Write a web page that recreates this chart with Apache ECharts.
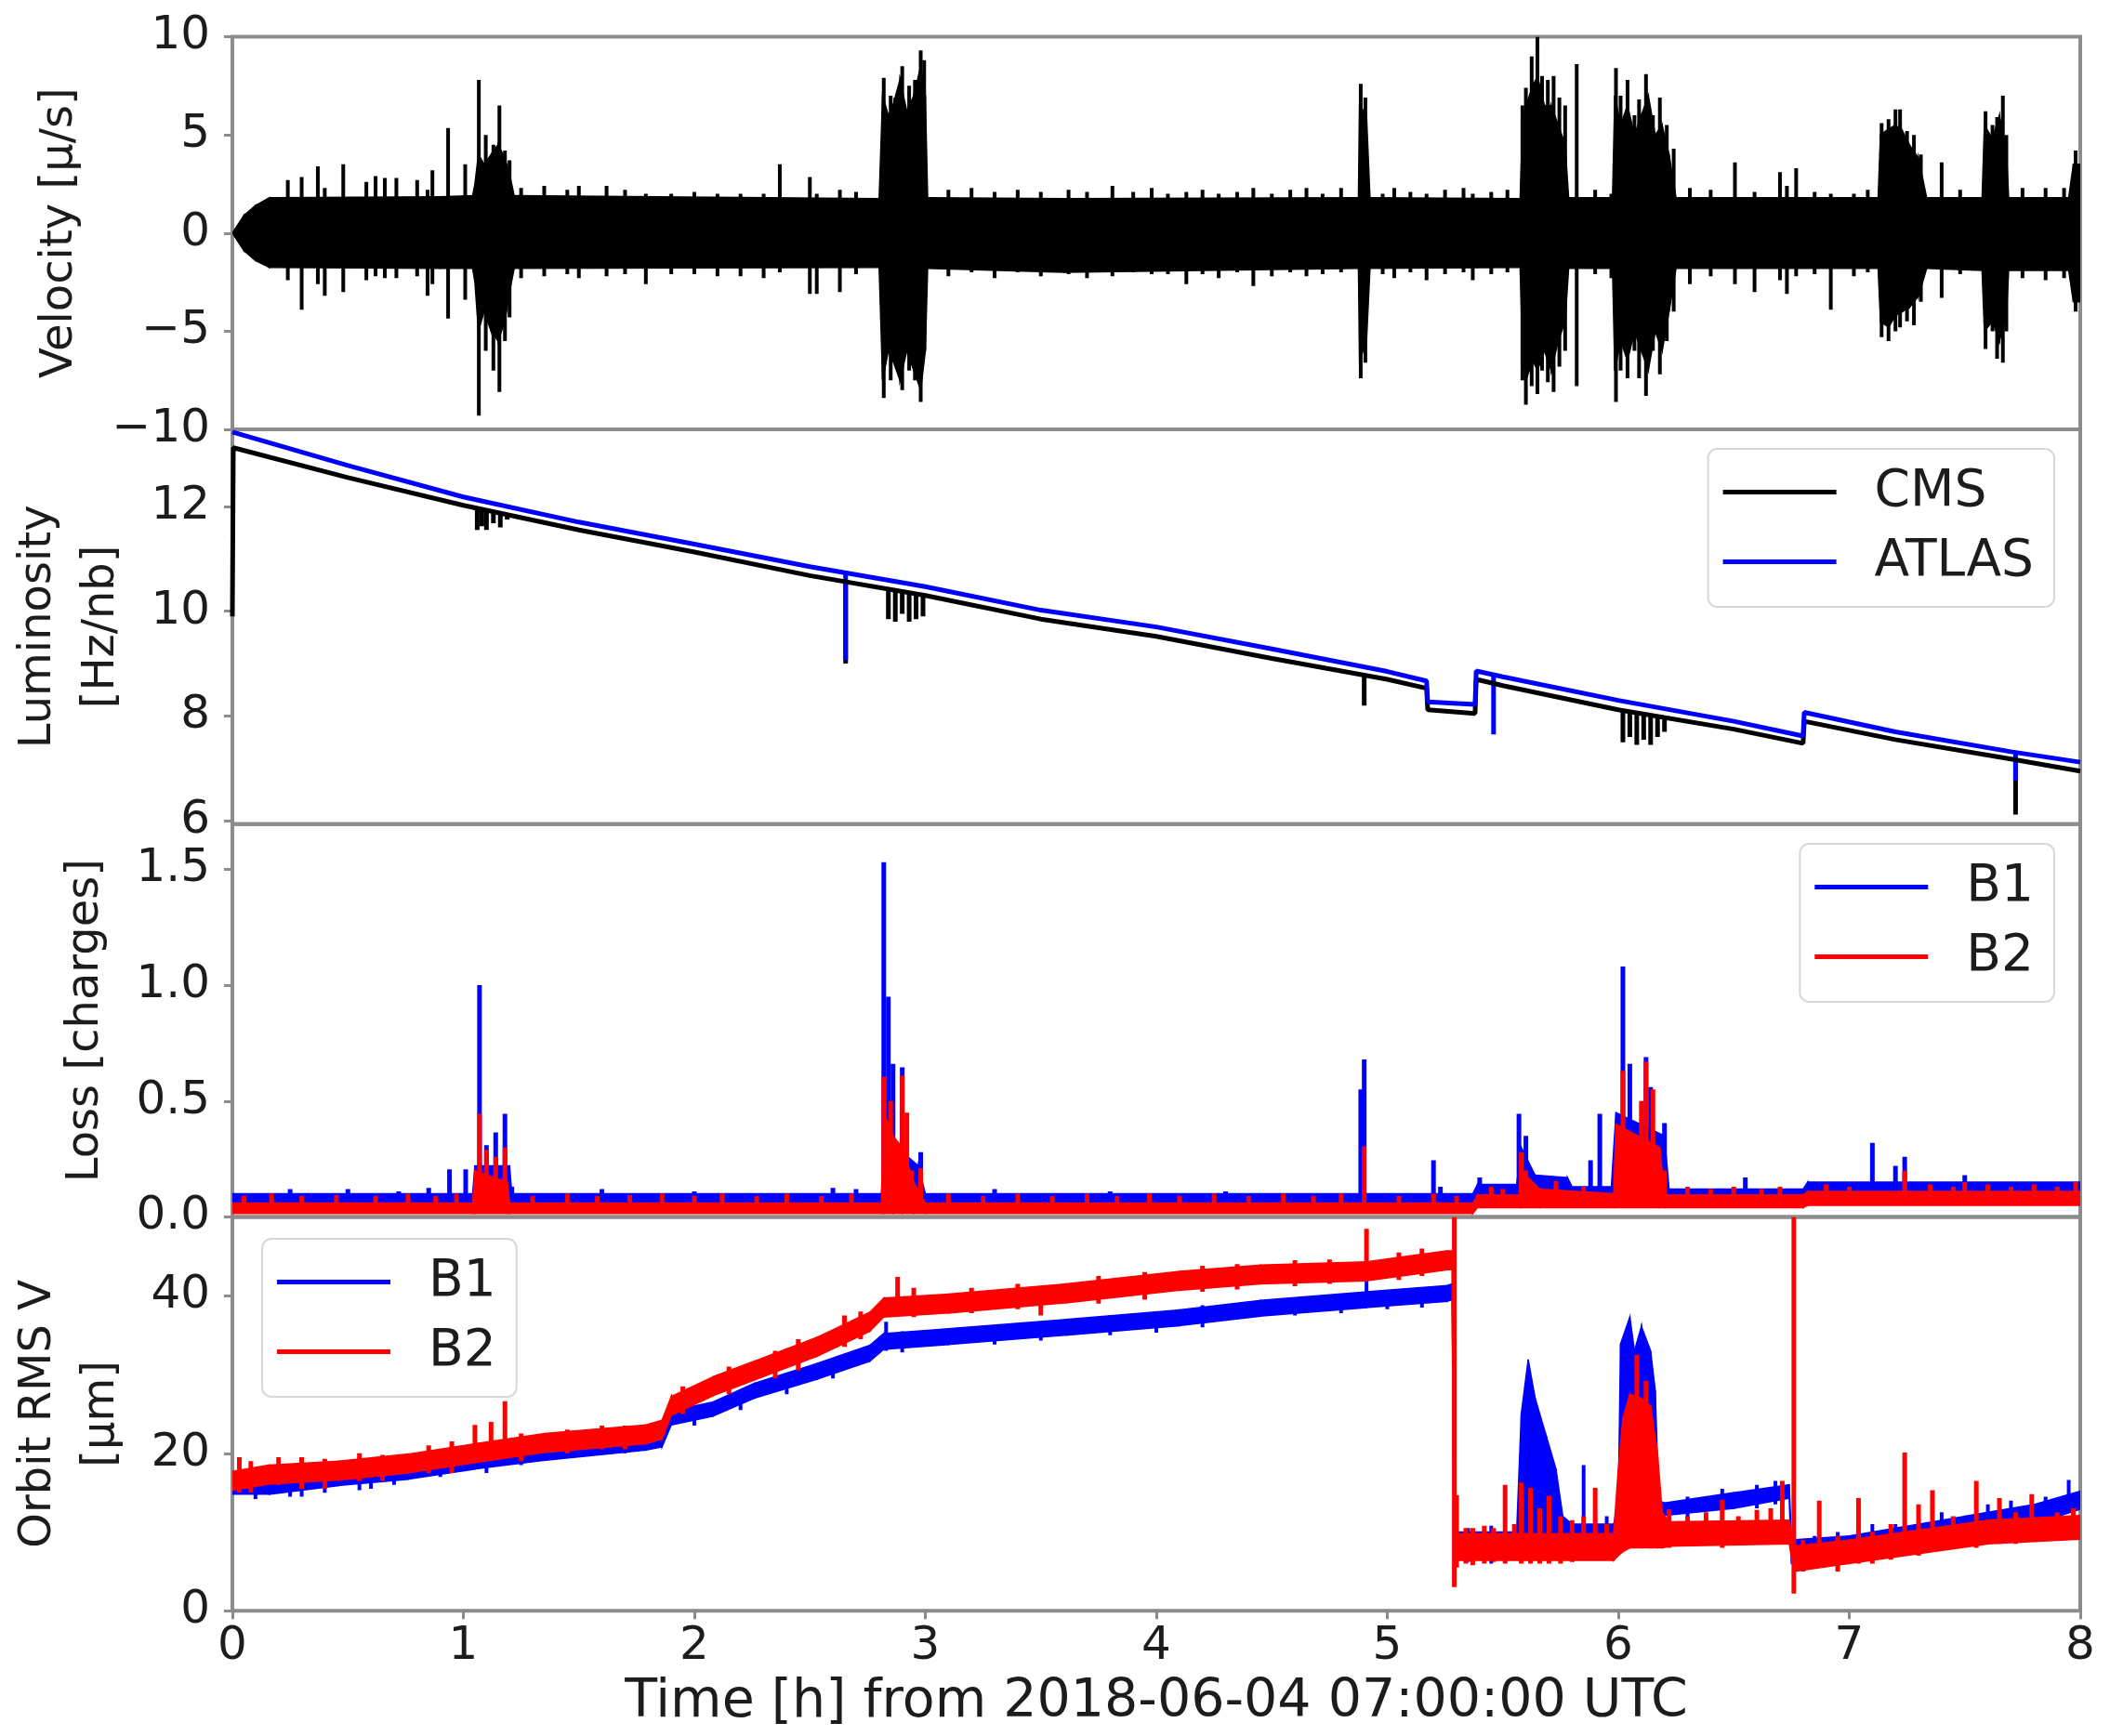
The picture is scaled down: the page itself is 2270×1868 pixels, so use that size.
<!DOCTYPE html>
<html>
<head>
<meta charset="utf-8">
<script src="https://cdn.jsdelivr.net/npm/echarts@6/dist/echarts.min.js"></script>
<style>
html, body { margin: 0; padding: 0; background: #fff; }
#chart { width: 2270px; height: 1868px; }
</style>
</head>
<body>
<div id="chart"></div>
<script>
// ---- tick labels ----
const velTicks = [-10, -5, 0, 5, 10]
const lumiTicks = [6, 8, 10, 12]
const lossTicks = [0, 0.5, 1.0, 1.5]
const orbitTicks = [0, 20, 40]

// ---- velocity: core band [t, lo, hi] and spikes [t, lo, hi] ----
const velBand = [
  [0.00, 0, 0], [0.05, -0.9, 0.9], [0.10, -1.4, 1.4], [0.16, -1.75, 1.8], [0.90, -1.8, 1.85],
  [1.04, -1.8, 1.9], [1.05, -2.5, 2.5], [1.065, -5.0, 4.0], [1.09, -4.0, 3.5], [1.12, -5.0, 4.0],
  [1.15, -5.5, 4.5], [1.18, -4.5, 3.8], [1.20, -3.0, 3.0], [1.22, -1.8, 1.9], [2.80, -1.75, 1.75],
  [2.815, -7.5, 7.0], [2.84, -6.0, 6.0], [2.86, -6.5, 6.5], [2.89, -7.5, 7.8], [2.92, -6.0, 6.2],
  [2.95, -7.0, 7.0], [2.98, -8.0, 8.5], [3.00, -6.0, 7.0], [3.01, -1.8, 1.8], [3.60, -2.0, 1.75],
  [4.875, -1.8, 1.8], [4.88, -6.5, 6.5], [4.91, -5.5, 6.0], [4.925, -1.8, 1.8], [5.575, -1.75, 1.75],
  [5.585, -6.0, 5.5], [5.60, -7.5, 6.5], [5.63, -6.5, 7.5], [5.65, -7.0, 8.0], [5.68, -6.0, 6.5],
  [5.71, -7.0, 6.5], [5.74, -5.5, 5.5], [5.77, -4.5, 4.5], [5.785, -1.8, 1.8], [5.975, -1.8, 1.8],
  [5.985, -7.0, 7.0], [6.01, -5.5, 5.5], [6.04, -6.5, 6.5], [6.07, -5.0, 5.0], [6.10, -6.0, 6.0],
  [6.13, -7.0, 7.0], [6.16, -5.0, 5.0], [6.19, -6.0, 5.5], [6.22, -4.0, 4.0], [6.25, -1.8, 1.8],
  [7.125, -1.8, 1.8], [7.135, -4.5, 5.0], [7.17, -4.8, 5.3], [7.20, -4.2, 5.5], [7.23, -4.0, 5.2],
  [7.26, -3.8, 4.5], [7.30, -3.2, 3.8], [7.335, -1.8, 1.8], [7.575, -1.9, 1.8], [7.585, -5.0, 5.5],
  [7.62, -4.5, 4.8], [7.65, -5.5, 6.0], [7.68, -4.2, 4.2], [7.69, -1.9, 1.8], [7.95, -1.9, 1.8],
  [7.97, -3.5, 3.5], [8.00, -3.5, 3.5]
]
const velSpikes = [
  [0.24, -2.4, 2.7], [0.30, -3.9, 2.85], [0.37, -2.6, 3.4], [0.40, -3.2, 2.3], [0.48, -3.0, 3.5],
  [0.58, -2.4, 2.6], [0.62, -2.2, 2.9], [0.66, -2.3, 2.8], [0.71, -2.3, 2.8], [0.80, -2.2, 2.7],
  [0.845, -3.2, 2.2], [0.866, -2.6, 3.2], [0.934, -4.35, 5.35], [1.008, -3.4, 3.5], [1.067, -9.3, 7.8],
  [1.097, -6.0, 5.0], [1.13, -7.0, 4.5], [1.156, -8.1, 6.5], [1.18, -5.5, 4.2], [1.20, -4.3, 3.7],
  [1.25, -2.3, 2.3], [1.35, -2.2, 2.4], [1.45, -2.1, 2.2], [1.50, -2.3, 2.4], [1.62, -2.2, 2.4],
  [1.70, -2.1, 2.2], [1.79, -2.6, 2.0], [1.90, -2.1, 2.0], [2.00, -2.1, 2.1], [2.10, -2.2, 2.0],
  [2.20, -2.2, 2.0], [2.30, -2.3, 2.0], [2.37, -2.0, 3.5], [2.50, -3.1, 2.85], [2.53, -3.1, 2.0],
  [2.63, -3.0, 2.2], [2.70, -2.1, 2.1],
  [2.82, -8.4, 7.9], [2.85, -7.5, 7.0], [2.87, -6.6, 6.9], [2.90, -8.0, 8.5], [2.93, -7.0, 7.5],
  [2.955, -7.5, 7.8], [2.98, -8.6, 9.3], [2.995, -6.0, 8.8],
  [3.10, -2.2, 2.2], [3.20, -2.0, 2.3], [3.30, -2.3, 2.1], [3.40, -2.0, 2.2], [3.50, -2.2, 2.1],
  [3.62, -2.1, 2.2], [3.70, -2.3, 2.1], [3.81, -2.2, 2.4], [3.90, -2.0, 2.1], [3.98, -2.1, 2.3],
  [4.05, -2.1, 2.0], [4.13, -2.6, 2.1], [4.20, -2.1, 2.2], [4.27, -2.3, 2.0], [4.35, -2.0, 2.1],
  [4.42, -2.7, 2.3], [4.50, -2.2, 2.0], [4.58, -2.0, 2.2], [4.65, -2.2, 2.3], [4.72, -2.1, 2.0],
  [4.80, -2.0, 2.3], [4.885, -7.4, 7.6], [4.905, -6.6, 6.9],
  [4.98, -2.1, 2.0], [5.03, -2.3, 2.3], [5.10, -2.0, 2.1], [5.17, -2.4, 2.0], [5.25, -2.1, 2.2],
  [5.33, -2.0, 2.3], [5.37, -2.4, 2.0], [5.45, -2.1, 2.1], [5.52, -2.0, 2.2],
  [5.585, -7.5, 6.5], [5.60, -8.75, 7.4], [5.625, -7.8, 9.0], [5.65, -8.2, 10.0], [5.67, -7.0, 8.0],
  [5.695, -7.6, 7.8], [5.72, -8.1, 8.0], [5.745, -6.8, 6.9], [5.77, -6.0, 6.5], [5.82, -7.8, 8.6],
  [5.90, -2.1, 2.2], [5.97, -2.3, 2.0],
  [5.99, -8.6, 8.4], [6.01, -7.0, 7.0], [6.04, -7.4, 7.8], [6.07, -6.0, 6.0], [6.09, -7.4, 6.8],
  [6.12, -8.3, 8.1], [6.15, -6.0, 6.0], [6.18, -7.2, 6.9], [6.21, -5.5, 5.5], [6.24, -4.0, 4.3],
  [6.31, -2.6, 2.3], [6.40, -2.2, 2.2], [6.505, -2.6, 3.6], [6.59, -3.0, 2.1], [6.70, -2.4, 3.1],
  [6.73, -3.1, 2.4], [6.77, -2.2, 3.3], [6.85, -2.1, 2.1], [6.92, -3.9, 2.0], [7.02, -2.2, 2.0],
  [7.08, -2.0, 2.2], [7.14, -5.3, 5.6], [7.17, -5.5, 5.8], [7.20, -5.0, 6.3], [7.22, -4.8, 6.3],
  [7.25, -4.5, 5.2], [7.28, -4.7, 5.0], [7.31, -3.5, 4.0], [7.40, -3.3, 3.6], [7.48, -2.1, 2.2],
  [7.59, -5.9, 6.2], [7.62, -5.0, 5.5], [7.64, -6.4, 5.9], [7.665, -6.6, 7.0], [7.68, -5.0, 5.0],
  [7.75, -2.3, 2.3], [7.85, -2.4, 2.3], [7.93, -2.3, 2.3], [7.98, -4.0, 4.2]
]

// ---- luminosity [t, value] and dips [t, lo, hi] ----
const cmsLumi = [
  [0, 9.9], [0.004, 13.12], [0.5, 12.55], [1.0, 12.02], [1.5, 11.55], [2.0, 11.13], [2.5, 10.68],
  [3.0, 10.3], [3.5, 9.85], [4.0, 9.52], [4.5, 9.1], [5.0, 8.7], [5.17, 8.53], [5.175, 8.12],
  [5.38, 8.05], [5.385, 8.7], [5.5, 8.58], [6.0, 8.12], [6.5, 7.75], [6.8, 7.48], [6.805, 7.9],
  [7.2, 7.55], [7.7, 7.18], [8.0, 6.95]
]
const atlasLumi = [
  [0, 13.42], [0.5, 12.78], [1.0, 12.18], [1.5, 11.7], [2.0, 11.28], [2.5, 10.85], [3.0, 10.47],
  [3.5, 10.02], [4.0, 9.7], [4.5, 9.28], [5.0, 8.85], [5.17, 8.67], [5.175, 8.27], [5.38, 8.22],
  [5.385, 8.86], [5.5, 8.75], [6.0, 8.3], [6.5, 7.9], [6.8, 7.62], [6.805, 8.07], [7.2, 7.7],
  [7.7, 7.32], [8.0, 7.12]
]
const cmsDips = [
  [1.06, 11.55, 11.96], [1.08, 11.62, 11.95], [1.10, 11.55, 11.93], [1.13, 11.68, 11.9],
  [1.16, 11.6, 11.87], [1.19, 11.75, 11.85], [2.655, 9.0, 10.56], [2.84, 9.85, 10.42],
  [2.87, 9.8, 10.4], [2.90, 9.95, 10.38], [2.93, 9.8, 10.36], [2.96, 9.85, 10.33], [2.99, 9.9, 10.31],
  [4.90, 8.2, 8.78], [6.02, 7.5, 8.1], [6.05, 7.6, 8.08], [6.08, 7.45, 8.05], [6.11, 7.55, 8.03],
  [6.14, 7.45, 8.0], [6.17, 7.6, 7.98], [6.20, 7.7, 7.96], [7.72, 6.12, 7.17]
]
const atlasDips = [[2.655, 9.07, 10.74], [5.46, 7.65, 8.8], [7.72, 6.77, 7.33]]

// ---- loss [t, lo, hi] ----
const b1LossBand = [
  [0, 0.06, 0.1], [1.04, 0.06, 0.1], [1.05, 0.06, 0.22], [1.2, 0.06, 0.22], [1.21, 0.06, 0.1],
  [2.81, 0.06, 0.1], [2.82, 0.06, 0.35], [2.97, 0.06, 0.22], [3.0, 0.06, 0.1], [5.37, 0.06, 0.1],
  [5.39, 0.08, 0.14], [5.56, 0.08, 0.14], [5.58, 0.08, 0.3], [5.64, 0.08, 0.18], [5.78, 0.08, 0.17],
  [5.8, 0.07, 0.13], [5.97, 0.07, 0.13], [5.99, 0.08, 0.45], [6.2, 0.08, 0.35], [6.22, 0.07, 0.12],
  [6.8, 0.07, 0.12], [6.82, 0.09, 0.15], [8.0, 0.09, 0.15]
]
const b2LossBand = [
  [0, 0.015, 0.06], [1.04, 0.015, 0.06], [1.05, 0.015, 0.2], [1.19, 0.015, 0.15], [1.2, 0.015, 0.06],
  [2.81, 0.015, 0.06], [2.82, 0.015, 0.45], [2.86, 0.015, 0.35], [2.9, 0.015, 0.3], [2.95, 0.015, 0.15],
  [3.0, 0.015, 0.06], [5.37, 0.015, 0.06], [5.39, 0.04, 0.095], [5.57, 0.04, 0.095], [5.58, 0.04, 0.2],
  [5.66, 0.04, 0.12], [5.98, 0.04, 0.1], [5.99, 0.04, 0.4], [6.18, 0.04, 0.3], [6.2, 0.04, 0.095],
  [6.8, 0.04, 0.095], [6.82, 0.05, 0.11], [8.0, 0.05, 0.11]
]
const b1LossSpikes = [
  [0.25, 0.08, 0.12], [0.5, 0.08, 0.12], [0.72, 0.08, 0.11], [0.85, 0.08, 0.125], [0.94, 0.08, 0.205],
  [1.01, 0.08, 0.205], [1.07, 0.1, 1.0], [1.1, 0.1, 0.31], [1.14, 0.1, 0.365], [1.18, 0.1, 0.445],
  [1.21, 0.08, 0.13], [1.6, 0.08, 0.12], [2.0, 0.08, 0.11], [2.6, 0.08, 0.125], [2.7, 0.08, 0.12],
  [2.82, 0.2, 1.53], [2.84, 0.2, 0.95], [2.86, 0.2, 0.66], [2.9, 0.2, 0.645], [2.94, 0.1, 0.2],
  [2.98, 0.1, 0.28], [3.3, 0.08, 0.12], [3.8, 0.08, 0.11], [4.3, 0.08, 0.11], [4.885, 0.1, 0.55],
  [4.9, 0.1, 0.68], [5.2, 0.08, 0.245], [5.23, 0.08, 0.13], [5.4, 0.1, 0.17], [5.57, 0.1, 0.445],
  [5.6, 0.1, 0.35], [5.88, 0.1, 0.245], [5.92, 0.1, 0.445], [6.02, 0.2, 1.08], [6.05, 0.2, 0.66],
  [6.12, 0.2, 0.69], [6.14, 0.2, 0.56], [6.2, 0.1, 0.405], [6.55, 0.1, 0.17], [7.1, 0.1, 0.32],
  [7.2, 0.1, 0.22], [7.24, 0.1, 0.26], [7.5, 0.1, 0.18]
]
const b2LossSpikes = [
  [0.05, 0.03, 0.09], [0.17, 0.03, 0.1], [0.3, 0.03, 0.09], [0.45, 0.03, 0.095], [0.62, 0.03, 0.09],
  [0.76, 0.03, 0.1], [0.88, 0.03, 0.09], [0.97, 0.03, 0.1],
  [1.07, 0.05, 0.445], [1.1, 0.05, 0.29], [1.14, 0.05, 0.26], [1.18, 0.05, 0.3],
  [1.3, 0.03, 0.09], [1.45, 0.03, 0.1], [1.58, 0.03, 0.09], [1.72, 0.03, 0.095], [1.86, 0.03, 0.1],
  [2.0, 0.03, 0.09], [2.12, 0.03, 0.1], [2.27, 0.03, 0.09], [2.4, 0.03, 0.1], [2.55, 0.03, 0.09],
  [2.68, 0.03, 0.1],
  [2.82, 0.05, 0.605], [2.85, 0.05, 0.5], [2.9, 0.05, 0.61], [2.92, 0.05, 0.45], [2.94, 0.05, 0.2],
  [2.98, 0.05, 0.21],
  [3.1, 0.03, 0.1], [3.25, 0.03, 0.09], [3.4, 0.03, 0.1], [3.55, 0.03, 0.09], [3.7, 0.03, 0.1],
  [3.83, 0.03, 0.09], [3.97, 0.03, 0.1], [4.1, 0.03, 0.09], [4.25, 0.03, 0.1], [4.4, 0.03, 0.09],
  [4.55, 0.03, 0.1], [4.68, 0.03, 0.09], [4.8, 0.03, 0.1], [4.9, 0.05, 0.305],
  [5.05, 0.03, 0.09], [5.2, 0.03, 0.1], [5.3, 0.03, 0.09], [5.45, 0.05, 0.13], [5.5, 0.05, 0.12],
  [5.58, 0.05, 0.28], [5.6, 0.05, 0.2], [5.73, 0.05, 0.155], [5.85, 0.05, 0.13],
  [6.02, 0.05, 0.63], [6.1, 0.05, 0.5], [6.12, 0.05, 0.67], [6.15, 0.05, 0.55], [6.2, 0.05, 0.2],
  [6.3, 0.05, 0.13], [6.4, 0.05, 0.12], [6.5, 0.05, 0.13], [6.62, 0.05, 0.12], [6.7, 0.05, 0.13],
  [6.9, 0.06, 0.14], [7.0, 0.06, 0.13], [7.24, 0.06, 0.2], [7.35, 0.06, 0.14], [7.45, 0.06, 0.13],
  [7.5, 0.06, 0.15], [7.6, 0.06, 0.14], [7.7, 0.06, 0.13], [7.8, 0.06, 0.14], [7.9, 0.06, 0.13],
  [7.98, 0.06, 0.15]
]

// ---- orbit RMS V [t, lo, hi] ----
const b1OrbitBand = [
  [0, 14.8, 16.8], [0.16, 14.8, 16.8], [0.46, 15.9, 17.9], [0.76, 16.7, 18.7], [1.05, 18.0, 19.9],
  [1.35, 19.1, 20.9], [1.79, 20.4, 22.1], [1.86, 20.8, 22.6], [1.9, 23.6, 25.4], [2.08, 24.7, 26.5],
  [2.26, 27.0, 28.9], [2.53, 29.4, 31.4], [2.76, 31.7, 33.7], [2.82, 33.2, 35.2], [3.1, 33.8, 35.8],
  [3.61, 35.0, 37.0], [4.1, 36.2, 38.2], [4.45, 37.4, 39.4], [4.91, 38.5, 40.5], [5.26, 39.3, 41.3],
  [5.28, 39.5, 41.5], [5.29, 7.0, 10.0], [5.56, 7.0, 10.0], [5.58, 8.0, 25.0], [5.61, 8.0, 31.9],
  [5.64, 8.0, 27.0], [5.69, 8.0, 22.0], [5.73, 8.0, 18.0], [5.76, 7.5, 12.0], [5.80, 7.5, 11.0],
  [5.98, 7.5, 11.0], [6.0, 7.5, 14.0], [6.01, 8.0, 33.9], [6.05, 8.5, 37.3], [6.07, 8.5, 33.0],
  [6.10, 8.5, 36.1], [6.14, 8.5, 33.0], [6.16, 9.0, 28.0], [6.175, 10.0, 14.0], [6.2, 12.1, 13.7],
  [6.5, 13.0, 15.0], [6.74, 14.3, 16.0], [6.75, 6.0, 9.0], [7.0, 6.5, 9.5], [7.5, 9.5, 12.0],
  [7.8, 11.0, 13.5], [8.0, 12.9, 15.2]
]
const b2OrbitBand = [
  [0, 15.3, 17.7], [0.16, 16.1, 18.5], [0.46, 16.6, 19.0], [0.76, 17.5, 19.9], [1.05, 18.8, 21.2],
  [1.35, 20.1, 22.5], [1.79, 21.2, 23.6], [1.86, 21.8, 24.2], [1.9, 24.8, 27.2], [2.08, 27.3, 29.7],
  [2.26, 29.3, 31.7], [2.53, 32.3, 34.7], [2.76, 35.5, 37.9], [2.82, 37.3, 39.7], [3.1, 37.8, 40.2],
  [3.61, 39.1, 41.5], [4.1, 40.7, 43.1], [4.45, 41.5, 43.9], [4.91, 41.9, 44.3], [5.26, 43.3, 45.7],
  [5.28, 43.3, 45.7], [5.29, 6.4, 9.8], [5.98, 6.4, 9.8], [6.0, 7.0, 18.0], [6.02, 7.5, 24.5],
  [6.05, 8.0, 27.5], [6.10, 8.0, 27.0], [6.14, 8.0, 26.0], [6.17, 8.0, 20.0], [6.19, 8.0, 12.5],
  [6.22, 8.2, 11.3], [6.74, 8.5, 11.5], [6.76, 5.0, 8.2], [7.0, 6.0, 9.0], [7.6, 8.5, 11.5],
  [8.0, 9.1, 12.1]
]
const b1OrbitSpikes = [
  [0.1, 14.2, 16.0], [0.25, 14.5, 16.5], [0.3, 14.5, 17.8], [0.4, 15.0, 17.0], [0.55, 15.3, 17.5],
  [0.6, 15.5, 18.5], [0.7, 16.0, 18.0], [0.9, 17.0, 19.0], [1.1, 17.5, 19.5], [1.25, 18.5, 21.0],
  [1.5, 19.5, 21.0], [1.7, 20.0, 22.0], [2.0, 23.5, 25.5], [2.2, 25.5, 27.5], [2.4, 27.5, 30.0],
  [2.6, 29.5, 32.0], [2.83, 33.0, 36.7], [2.9, 32.8, 35.5], [3.3, 33.8, 36.0], [3.5, 34.3, 36.5],
  [3.8, 35.0, 37.5], [4.0, 35.3, 37.8], [4.2, 36.0, 38.8], [4.6, 37.5, 39.8], [4.8, 37.8, 40.0],
  [4.91, 39.0, 42.8], [5.0, 38.3, 40.6], [5.15, 38.5, 41.0], [5.35, 6.2, 10.5], [5.45, 6.0, 10.8],
  [5.5, 6.5, 10.0], [5.85, 8.0, 18.5], [5.9, 7.0, 12.0], [5.95, 7.0, 12.0], [6.3, 11.5, 14.5],
  [6.45, 12.0, 15.5], [6.6, 13.0, 16.0], [6.68, 13.5, 16.5], [6.85, 5.8, 9.5], [6.95, 6.0, 10.0],
  [7.1, 7.0, 11.0], [7.2, 7.5, 11.0], [7.3, 8.0, 12.0], [7.4, 8.5, 12.5], [7.6, 10.0, 13.5],
  [7.7, 10.0, 14.0], [7.85, 11.0, 14.5], [7.95, 13.0, 16.6]
]
const b2OrbitSpikes = [
  [0.03, 15.0, 19.5], [0.08, 15.0, 19.0], [0.2, 16.0, 19.5], [0.3, 15.5, 19.5], [0.4, 15.5, 19.3],
  [0.55, 16.5, 20.0], [0.65, 16.5, 19.8], [0.85, 17.5, 21.0], [0.95, 17.5, 21.5], [1.05, 20.0, 23.6],
  [1.12, 20.0, 24.0], [1.18, 20.0, 26.6], [1.25, 19.0, 22.5], [1.45, 20.0, 23.0], [1.6, 20.5, 23.5],
  [1.7, 20.5, 23.5], [1.95, 25.0, 28.5], [2.15, 27.5, 31.0], [2.35, 29.5, 33.0], [2.45, 30.5, 34.5],
  [2.65, 33.5, 37.5], [2.72, 34.5, 38.0], [2.88, 38.0, 42.4], [2.95, 37.3, 41.0], [3.2, 37.8, 41.0],
  [3.4, 38.3, 41.5], [3.5, 37.5, 41.0], [3.75, 39.0, 42.5], [3.95, 39.5, 43.0], [4.2, 40.5, 43.8],
  [4.35, 40.8, 44.0], [4.6, 41.2, 44.5], [4.75, 41.5, 44.6], [4.91, 43.0, 48.5], [5.05, 42.0, 45.5],
  [5.15, 42.5, 46.0], [5.29, 3.0, 50], [5.3, 5.5, 14.7], [5.34, 6.0, 10.5], [5.37, 5.8, 10.5],
  [5.42, 6.0, 10.8], [5.46, 6.2, 10.5], [5.51, 6.0, 16.0], [5.55, 6.5, 11.0], [5.58, 6.0, 16.3],
  [5.62, 6.0, 15.6], [5.66, 6.0, 13.0], [5.7, 6.0, 14.6], [5.75, 6.0, 12.0], [5.8, 6.2, 11.5],
  [5.85, 6.5, 12.0], [5.9, 7.0, 15.6], [5.95, 6.5, 11.0], [6.08, 10.0, 32.5], [6.12, 10.0, 29.2],
  [6.22, 8.0, 12.9], [6.3, 8.5, 12.0], [6.38, 8.5, 12.5], [6.45, 8.0, 14.1], [6.52, 8.5, 12.0],
  [6.6, 8.5, 12.8], [6.66, 8.5, 13.0], [6.71, 9.0, 16.5], [6.76, 2.2, 50], [6.8, 5.0, 9.0],
  [6.87, 5.5, 14.0], [6.95, 5.0, 9.5], [7.04, 6.0, 14.3], [7.1, 6.0, 10.0], [7.18, 6.5, 11.0],
  [7.24, 7.0, 20.1], [7.3, 7.0, 13.5], [7.36, 7.5, 15.3], [7.45, 8.0, 12.0], [7.55, 8.0, 16.5],
  [7.65, 8.5, 14.3], [7.72, 8.5, 12.5], [7.79, 9.0, 14.8], [7.9, 9.0, 12.5], [7.97, 9.0, 13.0]
]

const FONT = 'DejaVu Sans'
const TXT = '#1c1c1c'
const FRAME = '#8c8c8c'
const BLUE = '#0000ff'
const RED = '#ff0000'

// filled band between lo and hi, one quad per pair of neighbouring points
function band(name, idx, pts, color) {
  return {
    name: name, type: 'custom', xAxisIndex: idx, yAxisIndex: idx, data: pts, clip: true,
    encode: { x: 0, y: [1, 2] }, silent: true,
    renderItem: function (params, api) {
      const i = params.dataIndex
      if (i >= pts.length - 1) return null
      const a = pts[i], b = pts[i + 1]
      return {
        type: 'polygon',
        shape: { points: [api.coord([a[0], a[2]]), api.coord([b[0], b[2]]), api.coord([b[0], b[1]]), api.coord([a[0], a[1]])] },
        style: { fill: color, stroke: color, lineWidth: 1.5 }
      }
    }
  }
}

// vertical spike from lo to hi
function spikes(name, idx, pts, color, w) {
  return {
    name: name, type: 'custom', xAxisIndex: idx, yAxisIndex: idx, data: pts, clip: true,
    encode: { x: 0, y: [1, 2] }, silent: true,
    renderItem: function (params, api) {
      const p = api.coord([api.value(0), api.value(1)])
      const q = api.coord([api.value(0), api.value(2)])
      return { type: 'line', shape: { x1: p[0], y1: p[1], x2: q[0], y2: q[1] }, style: { stroke: color, lineWidth: w } }
    }
  }
}

function lumiLine(name, pts, color) {
  return {
    name: name, type: 'line', xAxisIndex: 1, yAxisIndex: 1, data: pts, showSymbol: false,
    lineStyle: { color: color, width: 5 }, itemStyle: { color: color }, silent: true
  }
}

const tops = [39.5, 462, 886.7, 1309.5]
const heights = [422.5, 424.7, 422.8, 423.8]
const grids = tops.map((t, i) => ({
  left: 250, right: 32, top: t, height: heights[i], containLabel: false, outerBoundsMode: 'none',
  show: true, borderColor: FRAME, borderWidth: 4
}))

const xAxes = [0, 1, 2, 3].map(i => ({
  type: 'value', gridIndex: i, min: 0, max: 8, interval: 1,
  axisLine: { show: false }, splitLine: { show: false },
  axisTick: { show: i === 3, length: 9, lineStyle: { color: FRAME, width: 3 } },
  axisLabel: { show: i === 3, fontSize: 50, fontFamily: FONT, color: TXT, margin: 14 },
  name: i === 3 ? 'Time [h] from 2018-06-04 07:00:00 UTC' : '',
  nameLocation: 'middle', nameGap: 70,
  nameTextStyle: { fontSize: 57, fontFamily: FONT, color: TXT }
}))

const yDefs = [
  { min: -10, max: 10, ticks: velTicks, name: 'Velocity [μ/s]', gap: 151, fmt: v => String(v).replace('-', '\u2212') },
  { min: 5.94, max: 13.47, ticks: lumiTicks, name: 'Luminosity\n[Hz/nb]', gap: 106, fmt: v => String(v) },
  { min: 0, max: 1.695, ticks: lossTicks, name: 'Loss [charges]', gap: 123, fmt: v => v.toFixed(1) },
  { min: 0, max: 50, ticks: orbitTicks, name: 'Orbit RMS V\n[μm]', gap: 106, fmt: v => String(v) }
]
const yAxes = yDefs.map((d, i) => ({
  type: 'value', gridIndex: i, min: d.min, max: d.max,
  axisLine: { show: false }, splitLine: { show: false },
  axisTick: { show: true, length: 9, customValues: d.ticks, lineStyle: { color: FRAME, width: 3 } },
  axisLabel: { customValues: d.ticks, formatter: d.fmt, fontSize: 50, fontFamily: FONT, color: TXT, margin: 24 },
  name: d.name, nameLocation: 'middle', nameRotate: 90, nameGap: d.gap,
  nameTextStyle: { fontSize: 48, lineHeight: 68, fontFamily: FONT, color: TXT }
}))

const legendBase = {
  orient: 'vertical', icon: 'rect', itemWidth: 122, itemHeight: 5, itemGap: 20,
  selectedMode: false, padding: [19, 22, 21, 16],
  backgroundColor: 'rgba(255,255,255,0.85)', borderColor: '#d8d8d8', borderWidth: 2, borderRadius: 10,
  textStyle: { fontSize: 55, lineHeight: 50, fontFamily: FONT, color: TXT, padding: [0, 0, 0, 36] }
}
const beamItems = [{ name: 'B1', itemStyle: { color: BLUE } }, { name: 'B2', itemStyle: { color: RED } }]

const option = {
  animation: false,
  backgroundColor: '#fff',
  grid: grids,
  xAxis: xAxes,
  yAxis: yAxes,
  legend: [
    Object.assign({}, legendBase, { right: 60, top: 483, data: [{ name: 'CMS', itemStyle: { color: '#000' } }, { name: 'ATLAS', itemStyle: { color: BLUE } }] }),
    Object.assign({}, legendBase, { right: 60, top: 908, data: beamItems }),
    Object.assign({}, legendBase, { left: 282, top: 1333, data: beamItems })
  ],
  series: [
    band('velocity', 0, velBand, '#000'),
    spikes('velocity', 0, velSpikes, '#000', 4),
    lumiLine('CMS', cmsLumi, '#000'),
    spikes('CMS', 1, cmsDips, '#000', 5),
    lumiLine('ATLAS', atlasLumi, BLUE),
    spikes('ATLAS', 1, atlasDips, BLUE, 5),
    band('B1', 2, b1LossBand, BLUE),
    spikes('B1', 2, b1LossSpikes, BLUE, 5),
    band('B2', 2, b2LossBand, RED),
    spikes('B2', 2, b2LossSpikes, RED, 5),
    band('B1', 3, b1OrbitBand, BLUE),
    spikes('B1', 3, b1OrbitSpikes, BLUE, 4),
    band('B2', 3, b2OrbitBand, RED),
    spikes('B2', 3, b2OrbitSpikes, RED, 5)
  ]
}

const chart = echarts.init(document.getElementById('chart'))
chart.setOption(option)
</script>
</body>
</html>
